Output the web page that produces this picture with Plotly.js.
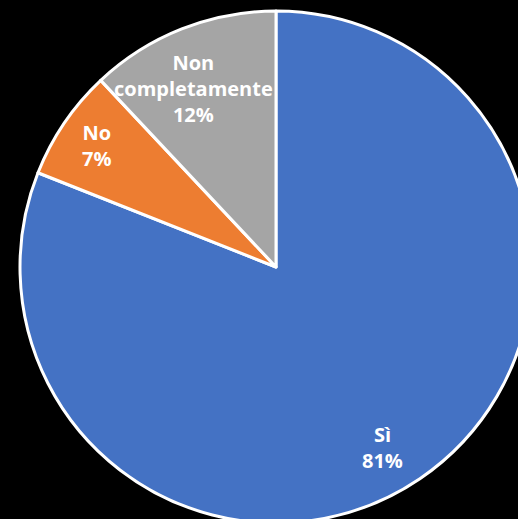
<!DOCTYPE html>
<html>
<head>
<meta charset="utf-8">
<script src="https://cdn.plot.ly/plotly-3.0.1.min.js"></script>
<style>
html, body { margin:0; padding:0; background:#000; overflow:hidden; width:518px; height:519px; }
#chart { width:552px; height:534px; }
</style>
</head>
<body>
<div id="chart"></div>
<script>
// Data
const categories = ["Sì", "No", "Non completamente"];
const displayLabels = ["Sì", "No", "Non<br>completamente"];
const values = [81, 7, 12];

// Styles / label placement (Excel-like "best fit" inside labels)
const colors = ["#4472C4", "#ED7D31", "#A5A5A5"];
const labelRadius = [0.818, 0.846, 0.767];   // fraction of pie radius
const labelAngleShift = [3.5, 0, -3.1];       // degrees

const total = values.reduce((a, b) => a + b, 0);
const annotations = [];
let cum = 0;
values.forEach((v, i) => {
  const midFrac = (cum + v / 2) / total;
  cum += v;
  const theta = (midFrac * 360 + labelAngleShift[i]) * Math.PI / 180;
  const pct = Math.round(v / total * 100) + "%";
  annotations.push({
    xref: "paper", yref: "paper",
    x: 0.5 + labelRadius[i] * 0.5 * Math.sin(theta),
    y: 0.5 + labelRadius[i] * 0.5 * Math.cos(theta),
    xanchor: "center", yanchor: "middle",
    text: displayLabels[i] + "<br>" + pct,
    showarrow: false,
    align: "center",
    font: { family: "Open Sans, sans-serif", size: 20, color: "#FFFFFF", weight: "bold" }
  });
});

const trace = {
  type: "pie",
  labels: categories,
  values: values,
  textinfo: "none",
  sort: false,
  direction: "clockwise",
  rotation: 0,
  marker: { colors: colors, line: { color: "#FFFFFF", width: 3 } },
  hoverinfo: "label+percent"
};

const layout = {
  width: 552,
  height: 534,
  margin: { l: 20, r: 20, t: 11, b: 11 },
  paper_bgcolor: "#000000",
  plot_bgcolor: "#000000",
  showlegend: false,
  annotations: annotations
};

Plotly.newPlot("chart", [trace], layout, { displayModeBar: false, staticPlot: true });
</script>
</body>
</html>
